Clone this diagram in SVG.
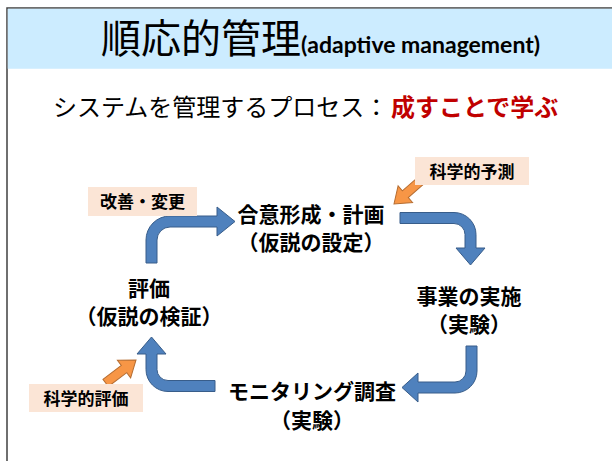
<svg xmlns="http://www.w3.org/2000/svg" width="612" height="461" viewBox="0 0 612 461">
<style>
.node{font-family:"Noto Sans CJK JP","Noto Sans",sans-serif;font-weight:700;font-size:21px;fill:#000;text-anchor:middle}
.lbl{font-family:"Noto Sans CJK JP","Noto Sans",sans-serif;font-weight:700;font-size:17px;fill:#000;text-anchor:middle}
.box{fill:#FBE5D6}
.blue{fill:#4F81BD;stroke:#385D8A;stroke-width:1}
.orange{fill:#F79646;stroke:#B66D31;stroke-width:1}
</style>
<defs>
<path id="oa" d="M-38,-4.5 L-15,-4.5 L-15,-11 L0,0 L-15,11 L-15,4.5 L-38,4.5 Z"/>
</defs>
<rect x="0" y="0" width="612" height="461" fill="#fff"/>
<g id="frame">
<rect x="7" y="8" width="620" height="470" fill="#fff" stroke="#404040" stroke-width="1.5"/>
<rect x="7.75" y="8.75" width="610" height="60" fill="#CCECFF"/>
</g>
<g id="title">
<text x="101" y="53" font-family="'Noto Sans CJK JP',sans-serif" font-size="40" fill="#000">順応的管理<tspan font-family="Lato,'Noto Sans CJK JP',sans-serif" font-weight="700" font-size="23">(adaptive management)</tspan></text>
</g>
<g id="subtitle">
<text x="53" y="116" font-family="'Noto Sans CJK JP',sans-serif" font-size="24" fill="#000">システムを管理するプロセス：</text>
<text x="391" y="116" font-family="'Noto Sans CJK JP',sans-serif" font-weight="700" font-size="24" fill="#C00000">成すことで学ぶ</text>
</g>
<g id="connectors">
<path class="blue" d="M146,263 L146,240 A24,24 0 0 1 170,216 L217,216 L217,207 L235,221.5 L217,236 L217,227 L170,227 A13,13 0 0 0 157,240 L157,263 Z"/>
<path class="blue" d="M400,212.5 L454,212.5 A22,22 0 0 1 476,234.5 L476,248 L485,248 L470.5,265 L456,248 L465,248 L465,234.5 A11,11 0 0 0 454,223.5 L400,223.5 Z"/>
<path class="blue" d="M466,346 L477,346 L477,371 A22,22 0 0 1 455,393 L418,393 L418,402 L402,387.5 L418,373 L418,382 L455,382 A11,11 0 0 0 466,371 Z"/>
<path class="blue" d="M215,380.5 L215,391.5 L168,391.5 A22,22 0 0 1 146,369.5 L146,354 L137,354 L151.5,337 L166,354 L157,354 L157,369.5 A11,11 0 0 0 168,380.5 Z"/>
<use href="#oa" class="orange" transform="translate(394,204) rotate(139)"/>
<use href="#oa" class="orange" transform="translate(136,360) rotate(-37)"/>
</g>
<g id="node-plan">
<text class="node" x="311" y="222">合意形成・計画</text>
<text class="node" x="311" y="250">（仮説の設定）</text>
</g>
<g id="node-implement">
<text class="node" x="469" y="304">事業の実施</text>
<text class="node" x="469" y="332">（実験）</text>
</g>
<g id="node-monitor">
<text class="node" x="312" y="399">モニタリング調査</text>
<text class="node" x="312" y="428">（実験）</text>
</g>
<g id="node-evaluate">
<text class="node" x="149" y="296">評価</text>
<text class="node" x="149" y="324">（仮説の検証）</text>
</g>
<g id="label-improve">
<rect class="box" x="88" y="187" width="109" height="29"/>
<text class="lbl" x="142.5" y="207.5">改善・変更</text>
</g>
<g id="label-predict">
<rect class="box" x="415" y="157" width="114" height="28"/>
<text class="lbl" x="472" y="177.5">科学的予測</text>
</g>
<g id="label-assess">
<rect class="box" x="29" y="384" width="114" height="28"/>
<text class="lbl" x="86" y="404.5">科学的評価</text>
</g>
</svg>
